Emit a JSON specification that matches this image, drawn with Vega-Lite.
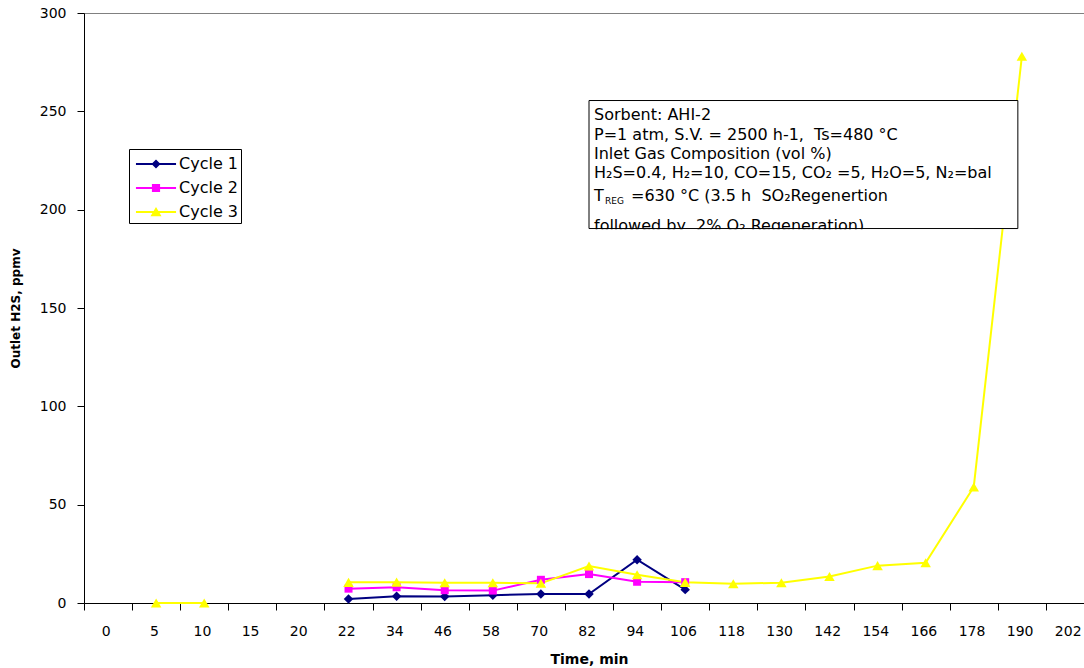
{
  "$schema": "https://vega.github.io/schema/vega-lite/v6.json",
  "width": 1010,
  "height": 590,
  "padding": {"left": 9, "top": 6, "right": 0, "bottom": 0},
  "background": "white",
  "config": {
    "view": {"stroke": "#808080", "strokeWidth": 1},
    "font": "DejaVu Sans",
    "axis": {
      "domainColor": "black",
      "tickColor": "black",
      "labelColor": "black",
      "titleColor": "black",
      "grid": false,
      "labelFont": "DejaVu Sans",
      "labelFontSize": 14,
      "tickSize": 7,
      "titleFont": "DejaVu Sans",
      "titleFontWeight": "bold"
    },
    "legend": {
      "orient": "none",
      "legendX": 45,
      "legendY": 136,
      "strokeColor": "black",
      "fillColor": "white",
      "padding": 3,
      "labelFontSize": 16,
      "labelFont": "DejaVu Sans",
      "labelColor": "black",
      "labelExpr": "datum.label + '\u2003\u2002'",
      "symbolSize": 576,
      "symbolOffset": 12,
      "labelOffset": 11,
      "rowPadding": 4,
      "symbolStrokeWidth": 0,
      "symbolOpacity": 1
    }
  },
  "datasets": {
    "series": [
      {"time": 22, "cycle": "Cycle 1", "h2s": 2},
      {"time": 34, "cycle": "Cycle 1", "h2s": 3.4},
      {"time": 46, "cycle": "Cycle 1", "h2s": 3.3},
      {"time": 58, "cycle": "Cycle 1", "h2s": 4},
      {"time": 70, "cycle": "Cycle 1", "h2s": 4.6},
      {"time": 82, "cycle": "Cycle 1", "h2s": 4.6},
      {"time": 94, "cycle": "Cycle 1", "h2s": 22},
      {"time": 106, "cycle": "Cycle 1", "h2s": 6.8},
      {"time": 22, "cycle": "Cycle 2", "h2s": 7.3},
      {"time": 34, "cycle": "Cycle 2", "h2s": 8},
      {"time": 46, "cycle": "Cycle 2", "h2s": 6.5},
      {"time": 58, "cycle": "Cycle 2", "h2s": 6.3},
      {"time": 70, "cycle": "Cycle 2", "h2s": 11.8},
      {"time": 82, "cycle": "Cycle 2", "h2s": 14.7},
      {"time": 94, "cycle": "Cycle 2", "h2s": 10.8},
      {"time": 106, "cycle": "Cycle 2", "h2s": 10.6},
      {"time": 5, "cycle": "Cycle 3", "h2s": 0},
      {"time": 10, "cycle": "Cycle 3", "h2s": 0},
      {"time": 15, "cycle": "Cycle 3", "h2s": null},
      {"time": 20, "cycle": "Cycle 3", "h2s": null},
      {"time": 22, "cycle": "Cycle 3", "h2s": 10.5},
      {"time": 34, "cycle": "Cycle 3", "h2s": 10.6},
      {"time": 46, "cycle": "Cycle 3", "h2s": 10.3},
      {"time": 58, "cycle": "Cycle 3", "h2s": 10.3},
      {"time": 70, "cycle": "Cycle 3", "h2s": 10},
      {"time": 82, "cycle": "Cycle 3", "h2s": 18.8},
      {"time": 94, "cycle": "Cycle 3", "h2s": 14.4},
      {"time": 106, "cycle": "Cycle 3", "h2s": 10.5},
      {"time": 118, "cycle": "Cycle 3", "h2s": 9.8},
      {"time": 130, "cycle": "Cycle 3", "h2s": 10.3},
      {"time": 142, "cycle": "Cycle 3", "h2s": 13.5},
      {"time": 154, "cycle": "Cycle 3", "h2s": 19},
      {"time": 166, "cycle": "Cycle 3", "h2s": 20.5},
      {"time": 178, "cycle": "Cycle 3", "h2s": 59},
      {"time": 190, "cycle": "Cycle 3", "h2s": 278}
    ],
    "box": [{"time": 82, "time2": 190, "top": 255.5, "bottom": 190.4}],
    "cover": [{"time": 82, "time2": 178, "top": 190.1, "bottom": 186}],
    "notes": [
      {"time": 82, "h2s": 245.7, "note": "Sorbent: AHI-2"},
      {"time": 82, "h2s": 235.6, "note": "P=1 atm, S.V. = 2500 h-1, \u00a0Ts=480 °C"},
      {"time": 82, "h2s": 225.8, "note": "Inlet Gas Composition (vol %)"},
      {"time": 82, "h2s": 216, "note": "H₂S=0.4, H₂=10, CO=15, CO₂ =5, H₂O=5, N₂=bal"},
      {"time": 82, "h2s": 204.6, "note": "T"},
      {"time": 82, "h2s": 189, "note": "followed by \u00a02% O₂ Regeneration)"}
    ],
    "sub": [{"time": 82, "h2s": 204.6, "note": "REG"}],
    "rest": [{"time": 82, "h2s": 204.6, "note": "=630 °C (3.5 h \u00a0SO₂Regenertion"}]
  },
  "encoding": {
    "x": {
      "field": "time",
      "type": "ordinal",
      "scale": {"type": "point", "padding": 0.5, "domain": [0, 5, 10, 15, 20, 22, 34, 46, 58, 70, 82, 94, 106, 118, 130, 142, 154, 166, 178, 190, 202]},
      "axis": {"title": "Time, min", "labelAngle": 0, "tickOffset": -24.05, "labelOffset": 21.8, "labelPadding": 14, "titlePadding": 14, "titleFontSize": 14}
    }
  },
  "layer": [
    {
      "data": {"name": "series"},
      "mark": {"type": "point", "filled": true, "opacity": 0},
      "encoding": {
        "y": {"field": "h2s", "type": "quantitative"},
        "color": {"field": "cycle", "type": "nominal", "legend": {"title": null}},
        "shape": {
          "field": "cycle",
          "type": "nominal",
          "scale": {"domain": ["Cycle 1", "Cycle 2", "Cycle 3"], "range": [
            "M-1.67,-0.08L1.67,-0.08L1.67,0.08L-1.67,0.08ZM0,-0.38L0.38,0L0,0.38L-0.38,0Z",
            "M-1.67,-0.08L1.67,-0.08L1.67,0.08L-1.67,0.08ZM-0.34,-0.34L0.34,-0.34L0.34,0.34L-0.34,0.34Z",
            "M-1.67,-0.08L1.67,-0.08L1.67,0.08L-1.67,0.08ZM0,-0.42L0.46,0.36L-0.46,0.36Z"
          ]},
          "legend": {"title": null}
        }
      }
    },
    {
      "data": {"name": "series"},
      "mark": {"type": "line", "strokeWidth": 2, "invalid": "break-paths-filter-domains"},
      "encoding": {
        "y": {
          "field": "h2s",
          "type": "quantitative",
          "scale": {"domain": [0, 300]},
          "axis": {"title": "Outlet H2S, ppmv", "values": [0, 50, 100, 150, 200, 250, 300], "labelPadding": 11, "titlePadding": 17, "titleFontSize": 12}
        },
        "color": {
          "field": "cycle",
          "type": "nominal",
          "scale": {"domain": ["Cycle 1", "Cycle 2", "Cycle 3"], "range": ["#000080", "#FF00FF", "#FFFF00"]},
          "legend": null
        }
      }
    },
    {
      "data": {"name": "series"},
      "transform": [{"filter": "datum.cycle === 'Cycle 1'"}],
      "mark": {"type": "point", "filled": true, "opacity": 1, "shape": "diamond", "size": 90},
      "encoding": {
        "y": {"field": "h2s", "type": "quantitative"},
        "color": {"field": "cycle", "type": "nominal", "legend": null}
      }
    },
    {
      "data": {"name": "series"},
      "transform": [{"filter": "datum.cycle === 'Cycle 2'"}],
      "mark": {"type": "point", "filled": true, "opacity": 1, "shape": "square", "size": 64},
      "encoding": {
        "y": {"field": "h2s", "type": "quantitative"},
        "color": {"field": "cycle", "type": "nominal", "legend": null}
      }
    },
    {
      "data": {"name": "series"},
      "transform": [{"filter": "datum.cycle === 'Cycle 3'"}],
      "mark": {"type": "point", "filled": true, "opacity": 1, "shape": "triangle-up", "size": 110},
      "encoding": {
        "y": {"field": "h2s", "type": "quantitative"},
        "color": {"field": "cycle", "type": "nominal", "legend": null}
      }
    },
    {
      "data": {"name": "box"},
      "mark": {"type": "rect", "fill": "white", "stroke": "black", "strokeWidth": 1, "x2Offset": -4},
      "encoding": {
        "x2": {"field": "time2"},
        "y": {"field": "top", "type": "quantitative"},
        "y2": {"field": "bottom"}
      }
    },
    {
      "data": {"name": "notes"},
      "mark": {"type": "text", "align": "left", "baseline": "alphabetic", "dx": 5, "fontSize": 16, "font": "DejaVu Sans", "color": "black"},
      "encoding": {
        "y": {"field": "h2s", "type": "quantitative"},
        "text": {"field": "note"}
      }
    },
    {
      "data": {"name": "sub"},
      "mark": {"type": "text", "align": "left", "baseline": "alphabetic", "dx": 16, "dy": 3, "fontSize": 9, "font": "DejaVu Sans", "color": "black"},
      "encoding": {
        "y": {"field": "h2s", "type": "quantitative"},
        "text": {"field": "note"}
      }
    },
    {
      "data": {"name": "rest"},
      "mark": {"type": "text", "align": "left", "baseline": "alphabetic", "dx": 42, "fontSize": 16, "font": "DejaVu Sans", "color": "black"},
      "encoding": {
        "y": {"field": "h2s", "type": "quantitative"},
        "text": {"field": "note"}
      }
    },
    {
      "data": {"name": "cover"},
      "mark": {"type": "rect", "fill": "white", "strokeWidth": 0},
      "encoding": {
        "x2": {"field": "time2"},
        "y": {"field": "top", "type": "quantitative"},
        "y2": {"field": "bottom"}
      }
    }
  ]
}
